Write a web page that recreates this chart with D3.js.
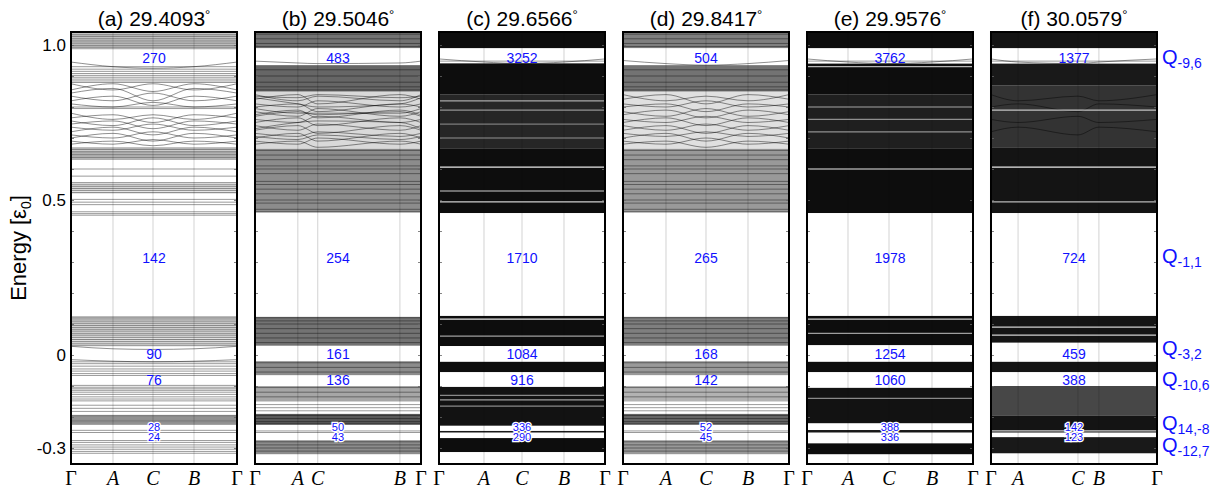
<!DOCTYPE html>
<html><head><meta charset="utf-8">
<script src="https://cdn.jsdelivr.net/npm/d3@7"></script>
<style>body{margin:0;background:#fff}svg{display:block}</style>
</head><body>
<svg id="chart" width="1222" height="492"></svg>
<script>
// ---------- data ----------
const panelTitles = ["(a) 29.4093", "(b) 29.5046", "(c) 29.6566", "(d) 29.8417", "(e) 29.9576", "(f) 30.0579"];
const kNames = ["Γ", "A", "C", "B", "Γ"];
const kFrac = [
  [0, 0.253, 0.494, 0.741, 1],
  [0, 0.258, 0.378, 0.873, 1],
  [0, 0.271, 0.500, 0.753, 1],
  [0, 0.259, 0.500, 0.753, 1],
  [0, 0.247, 0.494, 0.753, 1],
  [0, 0.163, 0.524, 0.650, 1]
];
const gapCounts = [
  ["270", "142", "90", "76", "28", "24"],
  ["483", "254", "161", "136", "50", "43"],
  ["3252", "1710", "1084", "916", "336", "290"],
  ["504", "265", "168", "142", "52", "45"],
  ["3762", "1978", "1254", "1060", "388", "336"],
  ["1377", "724", "459", "388", "142", "123"]
];
const gapEnergy = [0.958, 0.313, 0.002, -0.081, -0.232, -0.266];
const gapSmall = [false, false, false, false, true, true];
const qSubs = ["-9,6", "-1,1", "-3,2", "-10,6", "14,-8", "-12,7"];
const qEnergy = [0.958, 0.316, 0.02, -0.081, -0.224, -0.294];
const yTickValues = [-0.3, -0.2, -0.1, 0, 0.1, 0.2, 0.3, 0.4, 0.5, 0.6, 0.7, 0.8, 0.9, 1.0];
const yTickLabels = {"1": "1.0", "0.5": "0.5", "0": "0", "-0.3": "-0.3"};

// panel (a)
const blocksA = [[0.99, 1.045, 0.2], [0.63, 0.668, 0.15], [0.52, 0.556, 0.1], [-0.225, -0.193, 0.2], [0.03, 0.123, 0.12]];
const linesA = [1.04, 1.033, 1.027, 1.02, 1.013, 1.006, 0.999, 0.993, 0.988,
  0.93, 0.922, 0.915, 0.908, 0.902, 0.896, 0.89, 0.884, 0.879, 0.80, 0.795,
  0.668, 0.663, 0.657, 0.652, 0.647, 0.642, 0.637, 0.632, 0.60, 0.577,
  0.556, 0.549, 0.543, 0.537, 0.531, 0.524, 0.502, 0.493, 0.485, 0.462, 0.456, 0.451,
  0.123, 0.119, 0.113, 0.107, 0.101, 0.095, 0.089, 0.083, 0.077, 0.07, 0.064, 0.057, 0.05, 0.043, 0.036, 0.03,
  -0.022, -0.028, -0.036, -0.045, -0.052, -0.06, -0.066,
  -0.098, -0.104, -0.109, -0.114, -0.12, -0.127, -0.135, -0.142, -0.148,
  -0.162, -0.172, -0.182, -0.195, -0.199, -0.203, -0.207, -0.211, -0.215, -0.219, -0.223,
  -0.243, -0.25, -0.276, -0.282, -0.29, -0.297, -0.304, -0.311, -0.317];
const curvesA = [
  [0.945, 0.93, 0.925, 0.93, 0.945],
  [0.875, 0.855, 0.875, 0.855, 0.875], [0.855, 0.875, 0.85, 0.875, 0.855],
  [0.845, 0.86, 0.82, 0.86, 0.845], [0.835, 0.82, 0.845, 0.82, 0.835],
  [0.82, 0.835, 0.805, 0.835, 0.82], [0.81, 0.8, 0.815, 0.8, 0.81],
  [0.78, 0.76, 0.775, 0.76, 0.78], [0.765, 0.775, 0.75, 0.775, 0.765],
  [0.755, 0.74, 0.765, 0.74, 0.755], [0.745, 0.755, 0.73, 0.755, 0.745],
  [0.735, 0.725, 0.745, 0.725, 0.735], [0.72, 0.735, 0.71, 0.735, 0.72],
  [0.71, 0.7, 0.72, 0.7, 0.71], [0.7, 0.715, 0.69, 0.715, 0.7],
  [0.69, 0.68, 0.695, 0.68, 0.69], [0.68, 0.69, 0.675, 0.69, 0.68],
  [0.028, 0.02, 0.018, 0.02, 0.028], [-0.015, -0.02, -0.022, -0.02, -0.015]
];
const streaksA = [];

// panel (b)
const blocksB = [[0.99, 1.045, 0.55], [0.85, 0.935, 0.6], [0.665, 0.85, 0.15], [0.46, 0.665, 0.45], [0.03, 0.123, 0.55],
  [-0.065, -0.02, 0.45], [-0.15, -0.1, 0.35], [-0.225, -0.19, 0.65], [-0.32, -0.275, 0.45]];
const linesB = [1.035, 1.02, 1.005, 0.995, 0.92, 0.9, 0.88, 0.865, 0.855,
  0.66, 0.645, 0.63, 0.61, 0.6, 0.585, 0.56, 0.55, 0.535, 0.52, 0.5, 0.49, 0.47, 0.462,
  0.12, 0.11, 0.1, 0.085, 0.07, 0.055, 0.04, -0.025, -0.04, -0.055,
  -0.105, -0.12, -0.135, -0.16, -0.17, -0.18, -0.195, -0.205, -0.215, -0.222, -0.245, -0.25,
  -0.28, -0.29, -0.3, -0.31];
const curvesB = [
  [0.948, 0.942, 0.94, 0.942, 0.948],
  [0.84, 0.82, 0.835, 0.82, 0.84], [0.825, 0.84, 0.81, 0.84, 0.825], [0.81, 0.8, 0.82, 0.8, 0.81],
  [0.8, 0.81, 0.785, 0.81, 0.8], [0.785, 0.77, 0.795, 0.77, 0.785], [0.775, 0.79, 0.765, 0.79, 0.775],
  [0.76, 0.75, 0.77, 0.75, 0.76], [0.75, 0.765, 0.74, 0.765, 0.75], [0.74, 0.725, 0.745, 0.725, 0.74],
  [0.725, 0.74, 0.715, 0.74, 0.725], [0.715, 0.705, 0.72, 0.705, 0.715], [0.7, 0.715, 0.69, 0.715, 0.7],
  [0.69, 0.68, 0.7, 0.68, 0.69], [0.68, 0.69, 0.67, 0.69, 0.68], [0.83, 0.81, 0.8, 0.81, 0.83],
  [0.795, 0.78, 0.78, 0.78, 0.795], [0.73, 0.75, 0.755, 0.75, 0.73],
  [0.835, 0.83, 0.84, 0.83, 0.835], [0.77, 0.785, 0.775, 0.785, 0.77], [0.705, 0.695, 0.71, 0.695, 0.705]
];
const streaksB = [];

// panel (c)
const blocksC = [[0.99, 1.045, 0.95], [0.84, 0.94, 0.95], [0.665, 0.84, 0.85], [0.458, 0.665, 0.95],
  [0.029, 0.126, 0.95], [-0.055, -0.022, 0.95], [-0.228, -0.103, 0.93], [-0.25, -0.245, 0.9], [-0.313, -0.268, 0.95]];
const linesC = [0.948, 0.94];
const curvesC = [[0.955, 0.945, 0.94, 0.945, 0.955]];
const streaksC = [[0.82, 0.6], [0.79, 0.5], [0.745, 0.4], [0.7, 0.5], [0.606, 0.9], [0.529, 0.8], [0.494, 0.8],
  [0.116, 0.9], [0.061, 0.6], [-0.13, 0.5], [-0.145, 0.6], [-0.165, 0.5]];

// panel (d)
const blocksD = [[0.99, 1.045, 0.5], [0.85, 0.935, 0.55], [0.665, 0.85, 0.12], [0.46, 0.665, 0.4], [0.03, 0.123, 0.5],
  [-0.065, -0.02, 0.4], [-0.15, -0.1, 0.3], [-0.225, -0.19, 0.6], [-0.32, -0.275, 0.4]];
const linesD = [1.035, 1.02, 1.005, 0.995, 0.92, 0.9, 0.88, 0.865, 0.855,
  0.66, 0.645, 0.63, 0.61, 0.6, 0.585, 0.56, 0.55, 0.535, 0.52, 0.5, 0.49, 0.47, 0.462,
  0.12, 0.11, 0.1, 0.085, 0.07, 0.055, 0.04, -0.025, -0.04, -0.055,
  -0.105, -0.12, -0.135, -0.16, -0.17, -0.18, -0.195, -0.205, -0.215, -0.222, -0.245, -0.25,
  -0.28, -0.29, -0.3, -0.31];
const curvesD = [
  [0.95, 0.94, 0.935, 0.94, 0.95],
  [0.84, 0.82, 0.835, 0.82, 0.84], [0.825, 0.84, 0.81, 0.84, 0.825], [0.81, 0.8, 0.82, 0.8, 0.81],
  [0.8, 0.81, 0.785, 0.81, 0.8], [0.785, 0.77, 0.795, 0.77, 0.785], [0.775, 0.79, 0.765, 0.79, 0.775],
  [0.76, 0.75, 0.77, 0.75, 0.76], [0.75, 0.765, 0.74, 0.765, 0.75], [0.74, 0.725, 0.745, 0.725, 0.74],
  [0.725, 0.74, 0.715, 0.74, 0.725], [0.715, 0.705, 0.72, 0.705, 0.715], [0.7, 0.715, 0.69, 0.715, 0.7],
  [0.69, 0.68, 0.7, 0.68, 0.69], [0.68, 0.69, 0.67, 0.69, 0.68]
];
const streaksD = [];

// panel (e)
const blocksE = [[0.99, 1.045, 0.95], [0.84, 0.94, 0.95], [0.665, 0.84, 0.88], [0.458, 0.665, 0.95],
  [0.032, 0.126, 0.95], [-0.055, -0.022, 0.95], [-0.22, -0.106, 0.93], [-0.25, -0.242, 0.9], [-0.32, -0.285, 0.95]];
const linesE = [0.948];
const curvesE = [[0.955, 0.945, 0.94, 0.945, 0.955]];
const streaksE = [[0.93, 0.7], [0.8, 0.6], [0.76, 0.5], [0.72, 0.5], [0.6, 0.9], [0.116, 0.8], [0.07, 0.6], [-0.14, 0.5]];

// panel (f)
const blocksF = [[0.99, 1.045, 0.92], [0.87, 0.94, 0.9], [0.67, 0.87, 0.8], [0.458, 0.67, 0.92],
  [0.04, 0.126, 0.92], [-0.055, -0.022, 0.92], [-0.195, -0.1, 0.72], [-0.25, -0.195, 0.92], [-0.317, -0.265, 0.9]];
const linesF = [0.948];
const curvesF = [[0.955, 0.945, 0.94, 0.945, 0.955], [0.84, 0.82, 0.835, 0.82, 0.84], [0.8, 0.81, 0.785, 0.81, 0.8],
  [0.76, 0.75, 0.77, 0.75, 0.76], [0.72, 0.735, 0.71, 0.735, 0.72]];
const streaksF = [[0.79, 0.7], [0.606, 0.9], [0.494, 0.7], [0.09, 0.8], [0.064, 0.8], [-0.245, 0.8]];

const panels = [
  {blocks: blocksA, lines: linesA, curves: curvesA, streaks: streaksA},
  {blocks: blocksB, lines: linesB, curves: curvesB, streaks: streaksB},
  {blocks: blocksC, lines: linesC, curves: curvesC, streaks: streaksC},
  {blocks: blocksD, lines: linesD, curves: curvesD, streaks: streaksD},
  {blocks: blocksE, lines: linesE, curves: curvesE, streaks: streaksE},
  {blocks: blocksF, lines: linesF, curves: curvesF, streaks: streaksF}
];

// ---------- drawing ----------
const svg = d3.select("#chart");
const sans = "'Liberation Sans', Arial, Helvetica, sans-serif";
const blue = "#1010ff";
const plotTop = 32, plotBottom = 464;
const y = d3.scaleLinear().domain([-0.3, 1.0]).range([448, 45]);
const px = d3.scaleBand().domain(d3.range(panels.length)).range([71, 1157]).paddingInner(0.0978).paddingOuter(0);
const pw = px.bandwidth();
const x = d3.scaleLinear().domain([0, 1]).range([0, pw]);

const defs = svg.append("defs");
defs.append("clipPath").attr("id", "pclip").append("rect")
  .attr("x", 0).attr("y", plotTop).attr("width", pw).attr("height", plotBottom - plotTop);

panels.forEach((p, i) => {
  const g = svg.append("g").attr("transform", `translate(${px(i)},0)`);
  const inner = g.append("g").attr("clip-path", "url(#pclip)");
  inner.selectAll("line.grid").data(kFrac[i].slice(1, 4)).join("line")
    .attr("x1", d => x(d)).attr("x2", d => x(d)).attr("y1", plotTop).attr("y2", plotBottom)
    .attr("stroke", "#c8c8c8").attr("stroke-width", 0.8);
  inner.selectAll("rect.blk").data(p.blocks).join("rect")
    .attr("x", 0).attr("width", pw)
    .attr("y", d => y(d[1])).attr("height", d => y(d[0]) - y(d[1]))
    .attr("fill", "#000").attr("fill-opacity", d => d[2]);
  inner.selectAll("line.band").data(p.lines).join("line")
    .attr("x1", 0).attr("x2", pw).attr("y1", d => y(d)).attr("y2", d => y(d))
    .attr("stroke", "#000").attr("stroke-opacity", 0.5).attr("stroke-width", 0.8);
  const line = d3.line().x((d, j) => x(kFrac[i][j])).y(d => y(d)).curve(d3.curveMonotoneX);
  inner.selectAll("path.band").data(p.curves).join("path")
    .attr("d", line).attr("fill", "none")
    .attr("stroke", "#000").attr("stroke-opacity", 0.55).attr("stroke-width", 0.8);
  inner.selectAll("line.streak").data(p.streaks).join("line")
    .attr("x1", 0).attr("x2", pw).attr("y1", d => y(d[0])).attr("y2", d => y(d[0]))
    .attr("stroke", "#fff").attr("stroke-opacity", d => d[1]).attr("stroke-width", 1.2);

  const axL = d3.axisLeft(y).tickValues(yTickValues).tickSize(-3).tickPadding(5)
    .tickFormat(d => i === 0 ? (yTickLabels[String(+d.toFixed(1))] || "") : "");
  const gl = g.append("g").call(axL);
  const axR = d3.axisRight(y).tickValues(yTickValues).tickSize(-3).tickFormat("");
  const gr = g.append("g").attr("transform", `translate(${pw},0)`).call(axR);
  [gl, gr].forEach(a => {
    a.select(".domain").remove();
    a.selectAll(".tick line").attr("stroke", "#666").attr("stroke-width", 0.8);
  });
  gl.selectAll(".tick text").attr("font-family", sans).attr("font-size", 17).attr("fill", "#000");

  g.append("rect").attr("x", 0).attr("y", plotTop).attr("width", pw).attr("height", plotBottom - plotTop)
    .attr("fill", "none").attr("stroke", "#000").attr("stroke-width", 2);

  const t = g.append("text").attr("x", pw / 2).attr("y", 26).attr("text-anchor", "middle")
    .attr("font-family", sans).attr("font-size", 21).attr("fill", "#000");
  t.append("tspan").text(panelTitles[i]);
  t.append("tspan").attr("font-size", 13).attr("dy", -7).text("°");

  g.selectAll("text.gap").data(gapCounts[i]).join("text")
    .attr("x", pw / 2).attr("y", (d, j) => y(gapEnergy[j]))
    .attr("dy", "0.36em").attr("text-anchor", "middle")
    .attr("font-family", sans).attr("font-size", (d, j) => gapSmall[j] ? 11 : 14)
    .attr("fill", blue).attr("stroke", "#fff").attr("stroke-width", (d, j) => gapSmall[j] ? 2.5 : 0)
    .attr("paint-order", "stroke").text(d => d);

  g.selectAll("text.k").data(kNames).join("text")
    .attr("x", (d, j) => x(kFrac[i][j])).attr("y", 485).attr("text-anchor", "middle")
    .attr("font-family", "'Liberation Serif', 'DejaVu Serif', serif")
    .attr("font-style", (d, j) => (j === 0 || j === 4) ? "normal" : "italic")
    .attr("font-size", 20).attr("fill", "#000").text(d => d);
});

const ql = svg.append("g");
qSubs.forEach((s, j) => {
  const t = ql.append("text").attr("x", 1162).attr("y", y(qEnergy[j])).attr("dy", "0.3em")
    .attr("font-family", sans).attr("font-size", 20).attr("fill", blue);
  t.append("tspan").text("Q");
  t.append("tspan").attr("font-size", 14).attr("dy", 4).text(s);
});

const yt = svg.append("text").attr("transform", `translate(26,${(plotTop + plotBottom) / 2}) rotate(-90)`)
  .attr("text-anchor", "middle").attr("font-family", sans).attr("font-size", 22).attr("fill", "#000");
yt.append("tspan").text("Energy [ε");
yt.append("tspan").attr("font-size", 14).attr("dy", 5).text("0");
yt.append("tspan").attr("dy", -5).text("]");
</script>
</body></html>
